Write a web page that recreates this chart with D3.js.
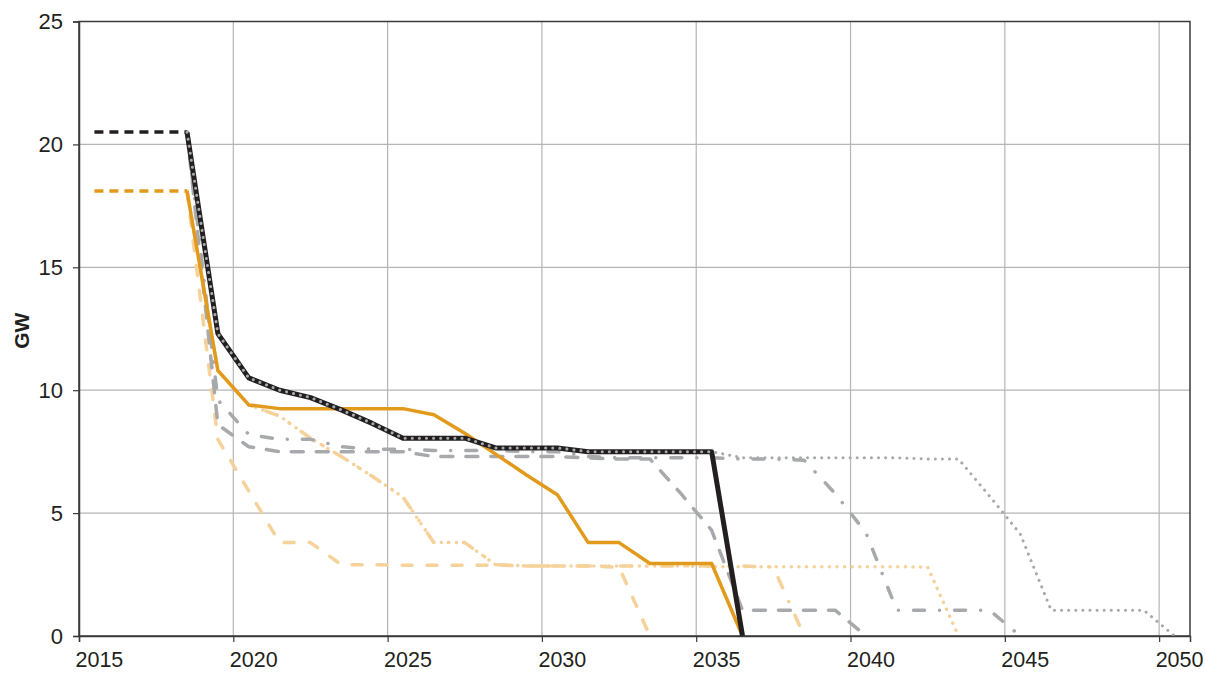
<!DOCTYPE html>
<html>
<head>
<meta charset="utf-8">
<script src="https://cdn.jsdelivr.net/npm/d3@7"></script>
<style>
  body { margin: 0; background: #fff; }
  svg { display: block; font-family: "Liberation Sans", Arial, sans-serif; }
</style>
</head>
<body>
<script>
"use strict";

// Categories
let years = [2015, 2016, 2017, 2018, 2019, 2020, 2021, 2022, 2023, 2024,
             2025, 2026, 2027, 2028, 2029, 2030, 2031, 2032, 2033, 2034,
             2035, 2036, 2037, 2038, 2039, 2040, 2041, 2042, 2043, 2044,
             2045, 2046, 2047, 2048, 2049, 2050];

let yTicks = [0, 5, 10, 15, 20, 25];
let xTickYears = [2015, 2020, 2025, 2030, 2035, 2040, 2045, 2050];

// Series values, one entry per year (null = no point)
let histBlack = [20.5, 20.5, 20.5, 20.5];
let histOrange = [18.1, 18.1, 18.1, 18.1];

let blackSolid = [null, null, null, 20.5, 12.3, 10.5, 10.0, 9.7, 9.2, 8.65,
                  8.05, 8.05, 8.05, 7.65, 7.65, 7.65, 7.5, 7.5, 7.5, 7.5,
                  7.5, 0];

let orangeSolid = [null, null, null, 18.1, 10.8, 9.4, 9.25, 9.25, 9.25, 9.25,
                   9.25, 9.0, 8.25, 7.4, 6.55, 5.75, 3.8, 3.8, 2.95, 2.95,
                   2.95, 0];

let grayDotted = [null, null, null, 20.5, 12.3, 10.5, 10.0, 9.7, 9.2, 8.65,
                  8.05, 8.05, 8.05, 7.65, 7.65, 7.65, 7.5, 7.5, 7.5, 7.5,
                  7.5, 7.25, 7.25, 7.25, 7.25, 7.25, 7.25, 7.2, 7.2, 5.7,
                  4.15, 1.05, 1.05, 1.05, 1.05, 0];

let grayDashDot = [null, null, null, 20.5, 9.6, 8.2, 8.0, 8.0, 7.7, 7.6,
                   7.6, 7.55, 7.55, 7.55, 7.5, 7.5, 7.3, 7.25, 7.25, 7.25,
                   7.25, 7.2, 7.2, 7.15, 5.8, 4.2, 1.05, 1.05, 1.05, 1.05,
                   0];

let grayDashed = [null, null, null, 20.5, 8.6, 7.7, 7.5, 7.5, 7.5, 7.5,
                  7.5, 7.3, 7.3, 7.3, 7.3, 7.3, 7.25, 7.2, 7.2, 5.8,
                  4.3, 1.05, 1.05, 1.05, 1.05, 0];

let paleDashed = [null, null, null, 18.1, 8.0, 5.9, 3.8, 3.8, 2.9, 2.9,
                  2.88, 2.88, 2.88, 2.88, 2.85, 2.85, 2.85, 2.8, 0];

let paleDashDot = [null, null, null, 18.1, 10.8, 9.4, 8.95, 8.05, 7.3, 6.5,
                   5.65, 3.8, 3.8, 2.9, 2.85, 2.85, 2.85, 2.85, 2.85, 2.85,
                   2.85, 2.85, 2.8, 0];

let paleDotted = [null, null, null, 18.1, 10.8, 9.4, 8.95, 8.05, 7.3, 6.5,
                  5.65, 3.8, 3.8, 2.9, 2.85, 2.85, 2.85, 2.85, 2.85, 2.85,
                  2.82, 2.82, 2.82, 2.82, 2.82, 2.82, 2.82, 2.8, 0];

// Colours
let cBlack = "#231f20";
let cOrange = "#e29a1c";
let cGray = "#a7a9ac";
let cPale = "#f6d29b";

// Drawing order: first drawn sits underneath
let series = [
    {values: paleDotted,  color: cPale,   width: 3.5, dash: "0.1,7.5",        cap: "round"},
    {values: paleDashDot, color: cPale,   width: 3.5, dash: "11,15,0.1,15",   cap: "round"},
    {values: paleDashed,  color: cPale,   width: 3.5, dash: "10,15",          cap: "round"},
    {values: grayDashed,  color: cGray,   width: 3.5, dash: "12,13",          cap: "round"},
    {values: grayDashDot, color: cGray,   width: 3.5, dash: "11,15,0.1,15",   cap: "round"},
    {values: orangeSolid, color: cOrange, width: 3.5, dash: null,             cap: "butt"},
    {values: histOrange,  color: cOrange, width: 3.5, dash: "9,6",            cap: "butt"},
    {values: histBlack,   color: cBlack,  width: 3.5, dash: "9,6",            cap: "butt"},
    {values: blackSolid,  color: cBlack,  width: 5,   dash: null,             cap: "butt"},
    {values: grayDotted,  color: cGray,   width: 3,   dash: "0.1,7",          cap: "round"}
];

//Width and height
let w = 1206;
let h = 673;
let margin = {top: 21.5, right: 16, bottom: 37, left: 79};

let x = d3.scaleLinear()
    .domain([2014.5, 2050.5])
    .range([margin.left, w - margin.right]);

let y = d3.scaleLinear()
    .domain([0, 25])
    .range([h - margin.bottom, margin.top]);

let svg = d3.select("body")
    .append("svg")
    .attr("width", w)
    .attr("height", h);

svg.append("rect")
    .attr("width", w)
    .attr("height", h)
    .attr("fill", "#fff");

// Gridlines
let gridX = xTickYears.slice(1).map(d => d - 0.5);
svg.append("g")
    .selectAll("line")
    .data(gridX)
    .enter().append("line")
    .attr("x1", d => x(d))
    .attr("x2", d => x(d))
    .attr("y1", y(0))
    .attr("y2", y(25))
    .attr("stroke", "#b5b5b5")
    .attr("stroke-width", 1.2);

svg.append("g")
    .selectAll("line")
    .data(yTicks.filter(d => d > 0 && d < 25))
    .enter().append("line")
    .attr("x1", x.range()[0])
    .attr("x2", x.range()[1])
    .attr("y1", d => y(d))
    .attr("y2", d => y(d))
    .attr("stroke", "#b5b5b5")
    .attr("stroke-width", 1.2);

// Frame
svg.append("rect")
    .attr("x", x.range()[0])
    .attr("y", y(25))
    .attr("width", x.range()[1] - x.range()[0])
    .attr("height", y(0) - y(25))
    .attr("fill", "none")
    .attr("stroke", "#3a3a3a")
    .attr("stroke-width", 1.5);

// Lines
let line = d3.line()
    .defined(d => d.v !== null)
    .x(d => x(d.year))
    .y(d => y(d.v));

svg.append("g")
    .selectAll("path")
    .data(series)
    .enter().append("path")
    .attr("d", s => line(s.values.map((v, i) => ({year: years[i], v: v}))))
    .attr("fill", "none")
    .attr("stroke", s => s.color)
    .attr("stroke-width", s => s.width)
    .attr("stroke-dasharray", s => s.dash)
    .attr("stroke-linecap", s => s.cap)
    .attr("stroke-linejoin", "round");

// Axes
let yAxis = d3.axisLeft(y)
    .tickValues(yTicks)
    .tickSize(6)
    .tickPadding(10)
    .tickFormat(d3.format("d"));

let gy = svg.append("g")
    .attr("transform", `translate(${x.range()[0]},0)`)
    .call(yAxis);

let xAxis = d3.axisBottom(x)
    .tickValues(xTickYears.map(d => d - 0.5))
    .tickSize(6)
    .tickFormat("");

let gx = svg.append("g")
    .attr("transform", `translate(0,${y(0)})`)
    .call(xAxis);

[gx, gy].forEach(g => {
    g.select(".domain").attr("stroke", "#3a3a3a").attr("stroke-width", 1.5);
    g.selectAll(".tick line").attr("stroke", "#3a3a3a").attr("stroke-width", 1.2);
});

gy.selectAll(".tick text")
    .attr("font-size", 22)
    .attr("fill", cBlack);

// Year labels sit at the category centres
svg.append("g")
    .selectAll("text")
    .data(xTickYears)
    .enter().append("text")
    .attr("x", d => x(d) + 5)
    .attr("y", 667)
    .attr("text-anchor", "middle")
    .attr("font-size", 21.5)
    .attr("fill", cBlack)
    .text(d => d);

svg.append("text")
    .attr("transform", `translate(29,${(y(0) + y(25)) / 2 + 2}) rotate(-90)`)
    .attr("text-anchor", "middle")
    .attr("font-size", 21)
    .attr("font-weight", "bold")
    .attr("fill", cBlack)
    .text("GW");
</script>
</body>
</html>
